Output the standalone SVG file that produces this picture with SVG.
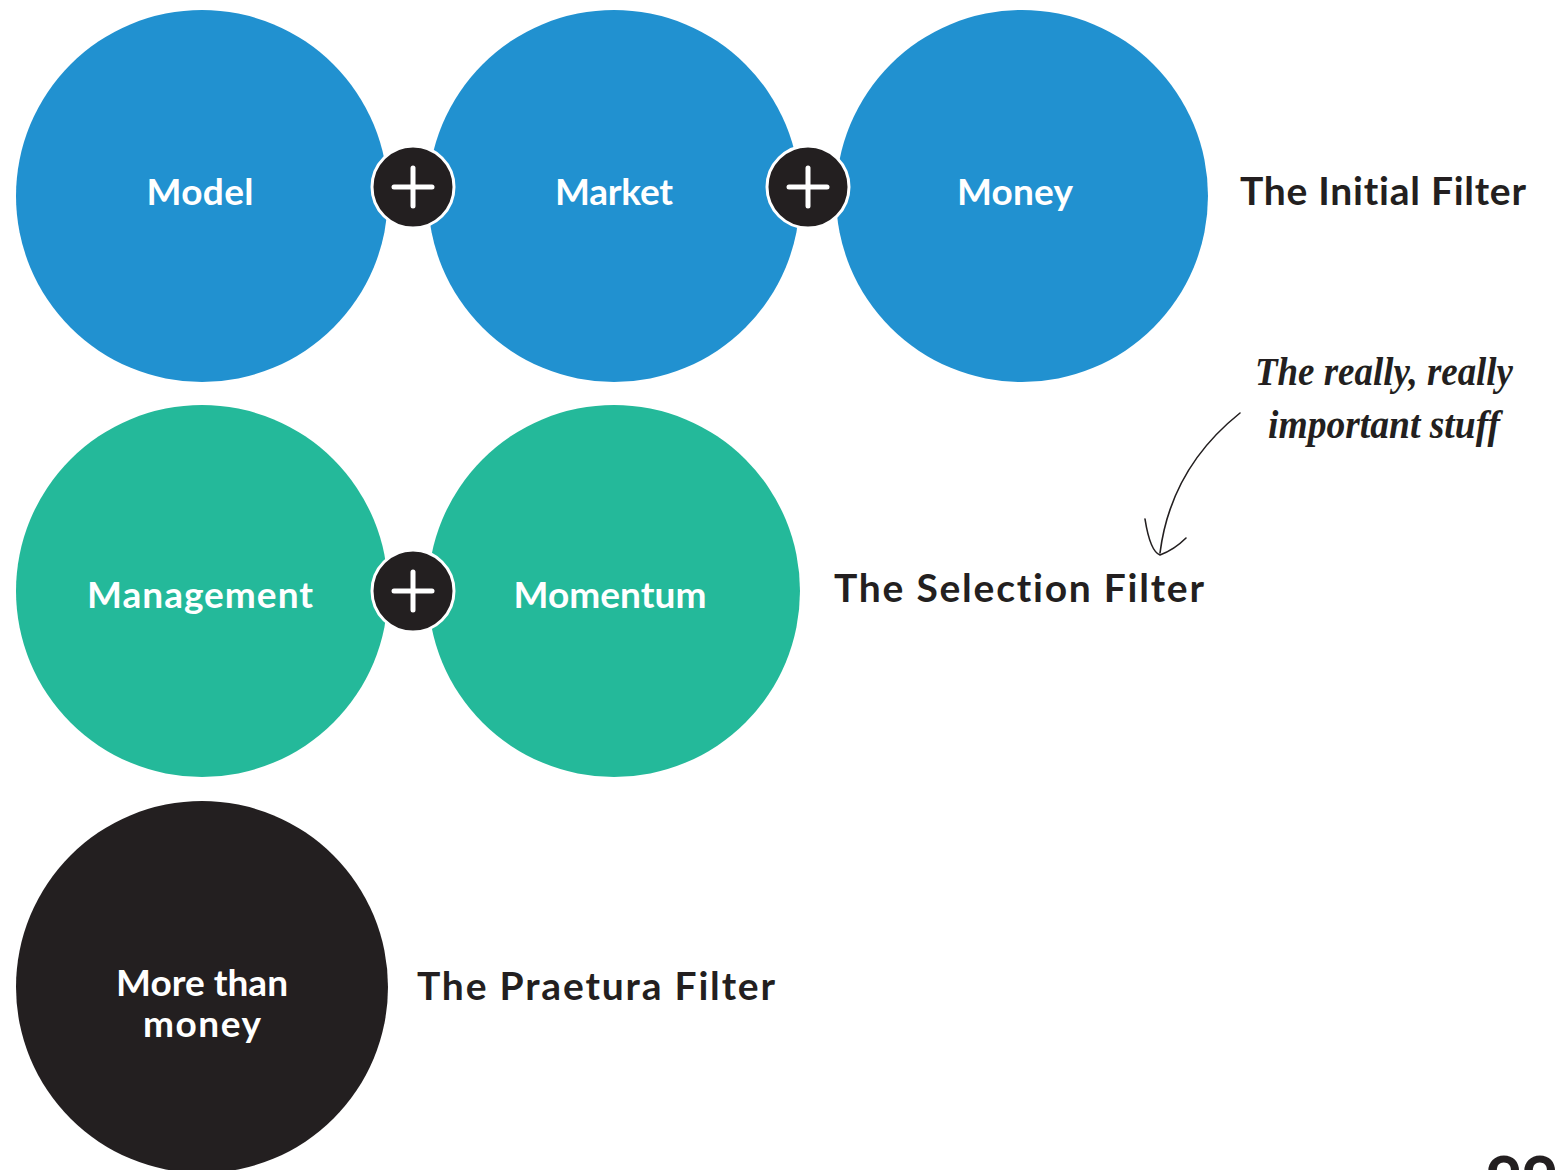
<svg xmlns="http://www.w3.org/2000/svg" width="1555" height="1170" viewBox="0 0 1555 1170">
  <style>
    .blue { fill: #2191d0; }
    .teal { fill: #24b99a; }
    .dark { fill: #231f20; }
    text { font-variant-ligatures: none; }
    .node-label { font-family: Lato, "Liberation Sans", sans-serif; font-weight: 700; font-size: 37px; fill: #ffffff; text-anchor: middle; }
    .filter-label { font-family: Lato, "Liberation Sans", sans-serif; font-weight: 700; font-size: 39px; fill: #231f20; }
    .script { font-family: "Liberation Serif", "DejaVu Serif", serif; font-style: italic; font-weight: 700; font-size: 40px; fill: #231f20; }
    .plus-ring { fill: #231f20; stroke: #ffffff; stroke-width: 3; }
    .plus-arm { stroke: #ffffff; stroke-width: 5; stroke-linecap: round; fill: none; }
    .pen { stroke: #231f20; stroke-width: 1.6; fill: none; stroke-linecap: round; }
  </style>
  <defs>
    <g id="plus">
      <circle class="plus-ring" cx="0" cy="0" r="41"/>
      <line class="plus-arm" x1="-19" y1="0" x2="19" y2="0"/>
      <line class="plus-arm" x1="0" y1="-19" x2="0" y2="19"/>
    </g>
  </defs>
  <rect width="1555" height="1170" fill="#ffffff"/>

  <!-- Row 1: initial filter -->
  <g id="model"><circle class="blue" cx="202" cy="196" r="186"/><text class="node-label" x="200" y="205" textLength="107">Model</text></g>
  <g id="market"><circle class="blue" cx="614" cy="196" r="186"/><text class="node-label" x="614" y="205" textLength="118">Market</text></g>
  <g id="money"><circle class="blue" cx="1022" cy="196" r="186"/><text class="node-label" x="1015" y="205" textLength="116">Money</text></g>

  <!-- Row 2: selection filter -->
  <g id="management"><circle class="teal" cx="202" cy="591" r="186"/><text class="node-label" x="200" y="608" textLength="226">Management</text></g>
  <g id="momentum"><circle class="teal" cx="614" cy="591" r="186"/><text class="node-label" x="610" y="608" textLength="193">Momentum</text></g>

  <!-- Row 3: praetura filter -->
  <g id="more-than-money"><circle class="dark" cx="202" cy="987" r="186"/>
    <text class="node-label" x="202" y="996" textLength="172">More than</text>
    <text class="node-label" x="202" y="1037" textLength="118">money</text>
  </g>

  <!-- Connectors: plus joints -->
  <g id="connectors">
    <use href="#plus" x="413" y="187"/>
    <use href="#plus" x="808" y="187"/>
    <use href="#plus" x="413" y="591"/>
  </g>

  <!-- Filter captions -->
  <g id="initial-filter"><text class="filter-label" x="1240" y="205" textLength="286">The Initial Filter</text></g>
  <g id="selection-filter"><text class="filter-label" x="834" y="602" textLength="370">The Selection Filter</text></g>
  <g id="praetura-filter"><text class="filter-label" x="417" y="1000" textLength="358">The Praetura Filter</text></g>

  <!-- Handwritten note with arrow -->
  <g id="note">
    <text class="script" x="1255" y="385" textLength="258" lengthAdjust="spacingAndGlyphs">The really, really</text>
    <text class="script" x="1268" y="438" textLength="232" lengthAdjust="spacingAndGlyphs">important stuff</text>
    <path class="pen" d="M1240,413 C1200,445 1168,490 1160,553"/>
    <path class="pen" d="M1145,519 C1148,538 1152,552 1160,555 C1168,552 1178,546 1186,538"/>
  </g>

  <!-- Page number, cut off at the lower edge -->
  <text x="1486" y="1202" font-family="Lato, 'Liberation Sans', sans-serif" font-weight="900" font-size="62" fill="#231f20">99</text>
</svg>
